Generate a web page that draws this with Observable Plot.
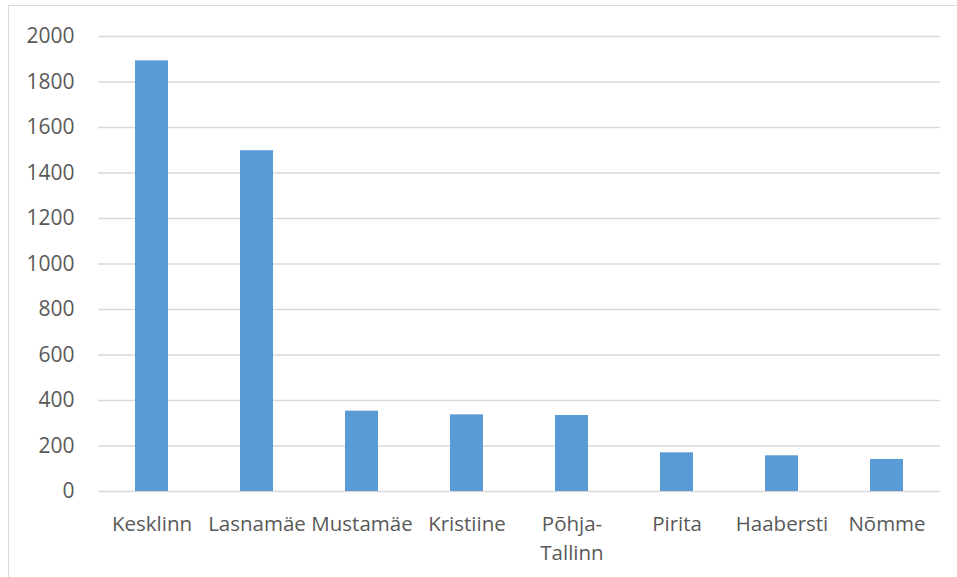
<!DOCTYPE html>
<html>
<head>
<meta charset="utf-8">
<script src="https://cdn.jsdelivr.net/npm/d3@7"></script>
<script src="https://cdn.jsdelivr.net/npm/@observablehq/plot@0.6"></script>
<style>
  body { margin: 0; background: #fff; }
  #wrap { position: relative; width: 957px; height: 577px; overflow: hidden; }
  #frame { position: absolute; left: 8px; top: 5px; right: -4px; bottom: -4px;
           border: 1.5px solid #d9d9d9; pointer-events: none; }
</style>
</head>
<body>
<div id="wrap"><div id="frame"></div></div>
<script>
const districts = ["Kesklinn", "Lasnamäe", "Mustamäe", "Kristiine", "Põhja-Tallinn", "Pirita", "Haabersti", "Nõmme"];
const counts = [1893, 1498, 353, 337, 334, 170, 157, 141];
const yTicks = [0, 200, 400, 600, 800, 1000, 1200, 1400, 1600, 1800, 2000];

const data = districts.map((d, i) => ({district: d, count: counts[i]}));

const chart = Plot.plot({
  width: 957,
  height: 577,
  marginLeft: 98,
  marginRight: 17,
  marginTop: 36,
  marginBottom: 86,
  style: {fontFamily: "'Open Sans', sans-serif", fontSize: "21px", color: "#595959", background: "transparent"},
  x: {domain: districts, paddingInner: 0.686, paddingOuter: 0.343, label: null},
  y: {domain: [0, 2000], label: null},
  marks: [
    Plot.gridY(yTicks, {stroke: "#d9d9d9", strokeOpacity: 1, strokeWidth: 1.5}),
    Plot.barY(data, {x: "district", y: "count", fill: "#5b9bd5"}),
    Plot.axisY(yTicks, {tickSize: 0, tickPadding: 24, tickFormat: d => String(d), fill: "#595959", fontSize: 21}),
    Plot.axisX({tickSize: 0, tickPadding: 19, fill: "#595959", fontSize: 20.5, lineHeight: 1.4,
                tickFormat: d => d.replace("-", "-\n")})
  ]
});
document.getElementById("wrap").prepend(chart);
</script>
</body>
</html>
